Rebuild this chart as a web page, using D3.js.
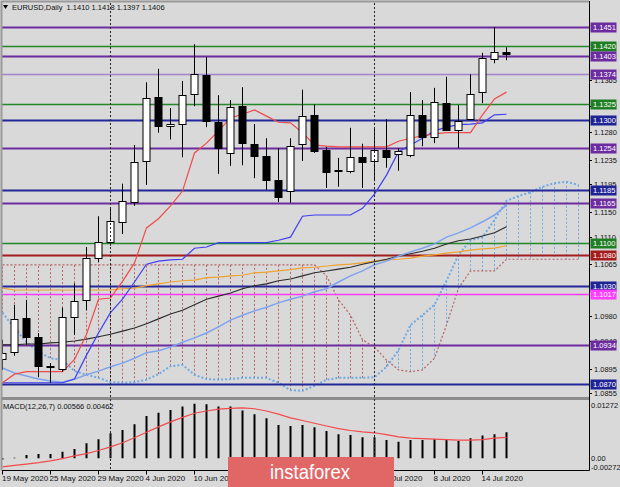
<!DOCTYPE html>
<html><head><meta charset="utf-8">
<script src="https://cdn.jsdelivr.net/npm/d3@7"></script>
<style>
html,body{margin:0;padding:0;background:#d9d9d9;}
svg{display:block;font-family:"Liberation Sans",Arial,sans-serif;}
</style></head><body>
<svg id="c" width="620" height="487"></svg>
<script>
// ---------- data ----------
const dates = ["19 May 2020","20 May 2020","21 May 2020","22 May 2020","25 May 2020","26 May 2020","27 May 2020","28 May 2020","29 May 2020",
  "1 Jun 2020","2 Jun 2020","3 Jun 2020","4 Jun 2020","5 Jun 2020","8 Jun 2020","9 Jun 2020","10 Jun 2020","11 Jun 2020","12 Jun 2020",
  "15 Jun 2020","16 Jun 2020","17 Jun 2020","18 Jun 2020","19 Jun 2020","22 Jun 2020","23 Jun 2020","24 Jun 2020","25 Jun 2020","26 Jun 2020",
  "29 Jun 2020","30 Jun 2020","1 Jul 2020","2 Jul 2020","3 Jul 2020","6 Jul 2020","7 Jul 2020","8 Jul 2020","9 Jul 2020","10 Jul 2020",
  "13 Jul 2020","14 Jul 2020","15 Jul 2020","16 Jul 2020"];
const open  = [1.0912,1.0922,1.0977,1.0946,1.0898,1.0895,1.0979,1.1007,1.1075,1.1101,1.1134,1.1166,1.1233,1.1337,1.1290,1.1293,1.1342,1.1373,1.1296,1.1246,1.1322,1.1261,1.1241,1.1202,1.1184,1.1260,1.1308,1.1251,1.1218,1.1217,1.1239,1.1233,1.1251,1.1244,1.1243,1.1308,1.1272,1.1327,1.1283,1.1301,1.1344,1.1399,1.1410];
const high  = [1.0942,1.0999,1.1007,1.0953,1.0904,1.0994,1.1034,1.1093,1.1143,1.1155,1.1196,1.1259,1.1361,1.1383,1.1319,1.1363,1.1423,1.1402,1.1340,1.1332,1.1353,1.1293,1.1270,1.1254,1.1270,1.1349,1.1325,1.1256,1.1238,1.1287,1.1261,1.1288,1.1301,1.1254,1.1345,1.1332,1.1352,1.1370,1.1324,1.1374,1.1409,1.1451,1.1418];
const low   = [1.0893,1.0916,1.0934,1.0881,1.0872,1.0890,1.0950,1.0990,1.1068,1.1095,1.1114,1.1160,1.1194,1.1279,1.1268,1.1239,1.1322,1.1288,1.1212,1.1225,1.1226,1.1205,1.1186,1.1166,1.1165,1.1233,1.1246,1.1189,1.1191,1.1213,1.1189,1.1200,1.1222,1.1217,1.1239,1.1257,1.1262,1.1282,1.1254,1.1301,1.1327,1.1392,1.1397];
const close = [1.0921,1.0976,1.0946,1.0898,1.0900,1.0979,1.1005,1.1075,1.1101,1.1135,1.1168,1.1231,1.1335,1.1290,1.1293,1.1340,1.1375,1.1298,1.1254,1.1321,1.1262,1.1241,1.1202,1.1174,1.1257,1.1306,1.1249,1.1215,1.1219,1.1239,1.1231,1.1251,1.1239,1.1249,1.1308,1.1272,1.1329,1.1283,1.1298,1.1342,1.1400,1.1410,1.1406];

const tenkan = [1.0872,1.0886,1.0890,1.0890,1.0890,1.0890,1.0910,1.0951,1.1008,1.1010,1.1037,1.1067,1.1124,1.1139,1.1160,1.1184,1.1246,1.1262,1.1282,1.1303,1.1309,1.1316,1.1306,1.1296,1.1295,1.1279,1.1259,1.1257,1.1256,1.1256,1.1256,1.1256,1.1256,1.1265,1.1270,1.1274,1.1277,1.1279,1.1279,1.1279,1.1308,1.1334,1.1345];
const kijun  = [1.0872,1.0872,1.0872,1.0872,1.0872,1.0872,1.0878,1.0917,1.0953,1.0986,1.1008,1.1036,1.1065,1.1070,1.1072,1.1073,1.1091,1.1093,1.1100,1.1100,1.1100,1.1100,1.1100,1.1104,1.1109,1.1143,1.1145,1.1145,1.1145,1.1145,1.1156,1.1179,1.1210,1.1248,1.1259,1.1270,1.1282,1.1288,1.1292,1.1293,1.1295,1.1308,1.1309];
const maBlack = [1.0934,1.0934,1.0935,1.0935,1.0937,1.0938,1.0940,1.0943,1.0947,1.0951,1.0956,1.0961,1.0968,1.0976,1.0984,1.0990,1.0999,1.1008,1.1013,1.1018,1.1025,1.1030,1.1033,1.1038,1.1041,1.1046,1.1051,1.1054,1.1057,1.1060,1.1065,1.1069,1.1073,1.1078,1.1082,1.1086,1.1091,1.1098,1.1103,1.1106,1.1111,1.1116,1.1126];
const maOrange = [1.1026,1.1023,1.1023,1.1023,1.1023,1.1023,1.1023,1.1023,1.1023,1.1023,1.1025,1.1026,1.1030,1.1033,1.1036,1.1038,1.1039,1.1043,1.1044,1.1046,1.1047,1.1051,1.1052,1.1054,1.1056,1.1059,1.1060,1.1062,1.1064,1.1065,1.1067,1.1070,1.1072,1.1073,1.1075,1.1078,1.1080,1.1083,1.1085,1.1088,1.1090,1.1091,1.1095];
const maLightBlue = [1.0896,1.0888,1.0883,1.0878,1.0875,1.0873,1.0878,1.0885,1.0891,1.0898,1.0904,1.0912,1.0921,1.0924,1.0930,1.0938,1.0945,1.0953,1.0963,1.0974,1.0982,1.0989,1.0995,1.1002,1.1008,1.1013,1.1020,1.1025,1.1036,1.1046,1.1054,1.1064,1.1070,1.1078,1.1085,1.1091,1.1098,1.1109,1.1116,1.1124,1.1134,1.1145,1.1161];
// Ichimoku senkou spans (they run 6 bars past the last candle on screen)
const spanA = [1.0986,1.0961,1.0938,1.0922,1.0912,1.0909,1.0891,1.0885,1.0880,1.0873,1.0872,1.0873,1.0877,1.0886,1.0899,1.0901,1.0885,1.0878,1.0877,1.0878,1.0880,1.0880,1.0880,1.0872,1.0860,1.0859,1.0867,1.0877,1.0880,1.0880,1.0880,1.0881,1.0898,1.0925,1.0966,1.0982,1.0999,1.1038,1.1080,1.1104,1.1109,1.1137,1.1168,1.1176,1.1182,1.1191,1.1197,1.1199,1.1194];
const spanB = [1.1064,1.1064,1.1064,1.1064,1.1064,1.1064,1.1064,1.1064,1.1064,1.1064,1.1064,1.1064,1.1064,1.1064,1.1064,1.1064,1.1064,1.1064,1.1064,1.1064,1.1064,1.1064,1.1064,1.1064,1.1064,1.1064,1.1064,1.1046,1.1007,1.0982,1.0942,1.0930,1.0909,1.0893,1.0890,1.0893,1.0912,1.0966,1.1026,1.1054,1.1054,1.1054,1.1073,1.1073,1.1073,1.1073,1.1073,1.1073,1.1073];

const macd   = [-0.0003,0.0001,0.0007,0.0009,0.0009,0.0014,0.0020,0.0033,0.0042,0.0055,0.0062,0.0075,0.0093,0.0100,0.0106,0.0114,0.0120,0.0119,0.0114,0.0114,0.0105,0.0097,0.0088,0.0073,0.0071,0.0073,0.0068,0.0060,0.0053,0.0051,0.0046,0.0046,0.0040,0.0036,0.0040,0.0040,0.0042,0.0040,0.0038,0.0044,0.0050,0.0053,0.0057];
const signal = [-0.0019,-0.0016,-0.0013,-0.0010,-0.0006,-0.0001,0.0005,0.0010,0.0017,0.0025,0.0034,0.0045,0.0057,0.0069,0.0080,0.0090,0.0099,0.0104,0.0108,0.0110,0.0111,0.0109,0.0104,0.0097,0.0089,0.0083,0.0077,0.0071,0.0065,0.0061,0.0058,0.0056,0.0052,0.0047,0.0044,0.0043,0.0042,0.0041,0.0040,0.0040,0.0041,0.0044,0.0046];

const levelValues = [1.1451,1.1420,1.1403,1.1374,1.1325,1.1300,1.1254,1.1185,1.1165,1.1100,1.1080,1.1030,1.1017,1.0934,1.0870];
const levelKinds  = ["purple","green","purple","lavender","green","navy","purple","navy","purple","green","darkred","navy","magenta","purple","navy"];

const priceTicks = [1.1365,1.1322,1.1280,1.1235,1.1195,1.1150,1.1110,1.1065,1.0980,1.0940,1.0895,1.0855];
const macdTicks = [0.01272,0.00,-0.00272];
const macdTickLabels = ["0.01272","0.00","-0.00272"];
const timeTickIdx = [0,4,8,12,16,20,24,28,32,36,40];
const periodSeparators = [9,31];
const header = "EURUSD,Daily  1.1410 1.1418 1.1397 1.1406";
const macdTitle = "MACD(12,26,7) 0.00566 0.00462";

// ---------- styles ----------
const levelLine = {purple:"#6c2c9f",green:"#22882a",lavender:"#a184c9",navy:"#23279a",darkred:"#a41d1d",magenta:"#ff3cff"};
const levelBox  = {purple:"#6c2c9f",green:"#1f7d24",lavender:"#6c2c9f",navy:"#1f2394",darkred:"#a41d1d",magenta:"#ff3cff"};

const svg = d3.select("#c");
const W = 620, H = 487;
const right = 589, mainTop = 3, mainBot = 397, macdTop = 400.5, macdBot = 470.5;

const x = d3.scaleLinear().domain([0, 48]).range([2, 578]);
const y = d3.scaleLinear().domain([1.0870, 1.1451]).range([384, 27]);
const ym = d3.scaleLinear().domain([-0.00272, 0.01272]).range([macdBot, macdTop]);

svg.append("rect").attr("width", W).attr("height", H).attr("fill", "#d9d9d9");

const defs = svg.append("defs");
defs.append("clipPath").attr("id","cm").append("rect").attr("x",2).attr("y",mainTop).attr("width",right-2).attr("height",mainBot-mainTop);
defs.append("clipPath").attr("id","cd").append("rect").attr("x",2).attr("y",macdTop).attr("width",right-2).attr("height",macdBot-macdTop);

const main = svg.append("g").attr("clip-path","url(#cm)");

// cloud hatch
const cloudIdx = d3.range(spanA.length);
main.append("g").selectAll("line").data(cloudIdx).join("line")
  .attr("x1", i => x(i)+0.5).attr("x2", i => x(i)+0.5)
  .attr("y1", i => y(spanA[i])).attr("y2", i => y(spanB[i]))
  .attr("stroke", i => spanB[i] > spanA[i] ? "#b66464" : "#6fa9e6")
  .attr("stroke-width", 1).attr("stroke-dasharray", "2,2");

const line = arr => d3.line().x((d,i) => x(i)+0.5).y(d => y(d))(arr);
main.append("path").attr("d", line(spanB)).attr("fill","none").attr("stroke","#b66464").attr("stroke-width",1.2).attr("stroke-dasharray","2,2");
main.append("path").attr("d", line(spanA)).attr("fill","none").attr("stroke","#6fa9e6").attr("stroke-width",2).attr("stroke-dasharray","2,2");

// levels
main.append("g").selectAll("line").data(levelValues).join("line")
  .attr("x1", 2).attr("x2", right)
  .attr("y1", d => Math.round(y(d))+0.5).attr("y2", d => Math.round(y(d))+0.5)
  .attr("stroke", (d,i) => levelLine[levelKinds[i]])
  .attr("stroke-width", (d,i) => levelKinds[i]==="lavender" ? 1.5 : (levelKinds[i]==="green"||levelKinds[i]==="magenta" ? 1.6 : 2));

// MAs
main.append("path").attr("d", line(maOrange)).attr("fill","none").attr("stroke","#f0a22e").attr("stroke-width",1.2);
main.append("path").attr("d", line(maBlack)).attr("fill","none").attr("stroke","#2a2a2a").attr("stroke-width",1.1);
main.append("path").attr("d", line(maLightBlue)).attr("fill","none").attr("stroke","#7ea3ee").attr("stroke-width",1.5);
main.append("path").attr("d", line(kijun)).attr("fill","none").attr("stroke","#3f3ff5").attr("stroke-width",1.2);
main.append("path").attr("d", line(tenkan)).attr("fill","none").attr("stroke","#f24a4a").attr("stroke-width",1.2);

// candles
const cidx = d3.range(open.length);
const cg = main.append("g");
cg.selectAll("line.w").data(cidx).join("line")
  .attr("x1", i => x(i)+0.5).attr("x2", i => x(i)+0.5)
  .attr("y1", i => y(high[i])).attr("y2", i => y(low[i]))
  .attr("stroke","#000").attr("stroke-width",1);
cg.selectAll("rect").data(cidx).join("rect")
  .attr("x", i => x(i)-3).attr("width", 7)
  .attr("y", i => Math.round(y(Math.max(open[i],close[i])))+0.5)
  .attr("height", i => Math.max(1, Math.round(Math.abs(y(open[i])-y(close[i])))))
  .attr("fill", i => close[i] >= open[i] ? "#ffffff" : "#000000")
  .attr("stroke","#000").attr("stroke-width",1);

// MACD pane
const md = svg.append("g").attr("clip-path","url(#cd)");
md.selectAll("line").data(cidx).join("line")
  .attr("x1", i => x(i)+0.5).attr("x2", i => x(i)+0.5)
  .attr("y1", ym(0)).attr("y2", i => ym(macd[i]))
  .attr("stroke","#000").attr("stroke-width",2);
md.append("path").attr("d", d3.line().x((d,i)=>x(i)+0.5).y(d=>ym(d))(signal))
  .attr("fill","none").attr("stroke","#f24a4a").attr("stroke-width",1.2);

// frames
svg.append("line").attr("x1",1.5).attr("x2",1.5).attr("y1",1).attr("y2",macdBot).attr("stroke","#9a9a9a").attr("stroke-width",2);
svg.append("line").attr("x1",1).attr("x2",right).attr("y1",1.5).attr("y2",1.5).attr("stroke","#9a9a9a").attr("stroke-width",2);
svg.append("rect").attr("x",2).attr("y",mainBot).attr("width",right-2).attr("height",3).attr("fill","#8c8c8c");
svg.append("line").attr("x1",right+0.5).attr("x2",right+0.5).attr("y1",1).attr("y2",macdBot).attr("stroke","#000");
svg.append("line").attr("x1",2).attr("x2",right+0.5).attr("y1",macdBot).attr("y2",macdBot).attr("stroke","#000");

// period separators
svg.append("g").selectAll("line").data(periodSeparators).join("line")
  .attr("x1", i => x(i)+0.5).attr("x2", i => x(i)+0.5)
  .attr("y1", mainTop).attr("y2", macdBot)
  .attr("stroke","#222").attr("stroke-width",1).attr("stroke-dasharray","2,2");

// price axis
const pa = svg.append("g").attr("font-size","7.5px").attr("fill","#111");
priceTicks.forEach(v => {
  const yy = Math.round(y(v))+0.5;
  pa.append("line").attr("x1",right).attr("x2",right+3).attr("y1",yy).attr("y2",yy).attr("stroke","#000");
  pa.append("text").attr("x",594).attr("y",yy).attr("dy","0.35em").text(v.toFixed(4));
});
macdTicks.forEach((v,i) => {
  let yy = ym(v);
  if (i===0) yy = 405; if (i===2) yy = 467;
  pa.append("text").attr("x",591).attr("y",yy).attr("dy","0.35em").text(macdTickLabels[i]);
});

// level labels
const lb = svg.append("g").attr("font-size","7.5px");
levelValues.forEach((v,i) => {
  const yy = Math.round(y(v))+0.5;
  lb.append("rect").attr("x",590.5).attr("y",yy-5).attr("width",26).attr("height",10).attr("fill",levelBox[levelKinds[i]]);
  lb.append("text").attr("x",593).attr("y",yy).attr("dy","0.35em").attr("fill","#fff").text(v.toFixed(4));
});

// time axis
const ta = svg.append("g").attr("font-size","8px").attr("fill","#111");
timeTickIdx.forEach(i => {
  const xx = x(i)+0.5;
  ta.append("line").attr("x1",xx).attr("x2",xx).attr("y1",macdBot).attr("y2",macdBot+4).attr("stroke","#000");
  ta.append("text").attr("x", Math.max(2, xx-1)).attr("y",481).text(dates[i]);
});

// header texts
svg.append("path").attr("d","M3,5 L8,5 L5.5,9 Z").attr("fill","#000");
svg.append("text").attr("x",12).attr("y",10).attr("font-size","7.5px").attr("fill","#111").attr("xml:space","preserve").text(header);
svg.append("text").attr("x",3).attr("y",409).attr("font-size","7.5px").attr("fill","#111").text(macdTitle);

// watermark
svg.append("rect").attr("x",228).attr("y",457).attr("width",166).attr("height",30).attr("fill","#e16767");
svg.append("text").attr("x",270).attr("y",479).attr("font-size","21px").attr("fill","#fff")
  .attr("textLength",80).attr("lengthAdjust","spacingAndGlyphs").text("instaforex");
</script>
</body></html>
